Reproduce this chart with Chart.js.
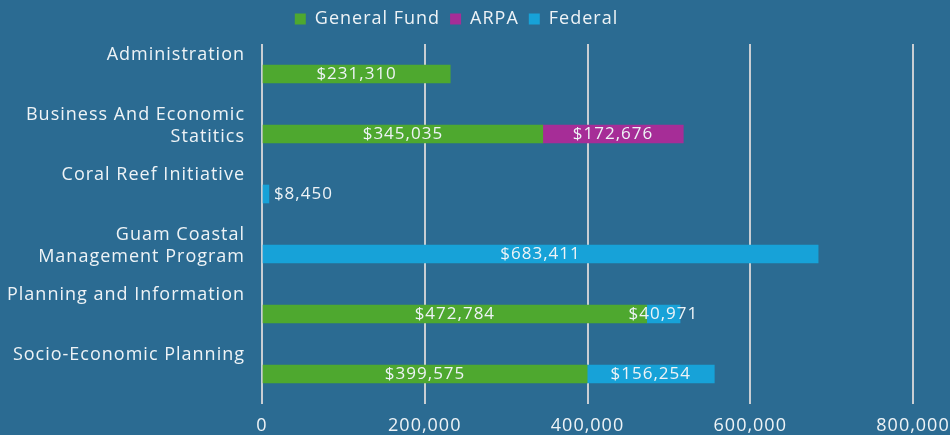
<!DOCTYPE html>
<html>
<head>
<meta charset="utf-8">
<script src="https://cdn.jsdelivr.net/npm/chart.js@4"></script>
<style>
  html, body { margin: 0; padding: 0; background: #2b6b92; }
  #wrap { width: 950px; height: 435px; position: relative; }
</style>
</head>
<body>
<div id="wrap"><canvas id="budgetChart"></canvas></div>
<script>
// category labels (second entry keeps single-line names top-aligned like the original)
const categories = [
    ['Administration', ''],
    ['Business And Economic', 'Statitics'],
    ['Coral Reef Initiative', ''],
    ['Guam Coastal', 'Management Program'],
    ['Planning and Information', ''],
    ['Socio-Economic Planning', '']
];
const generalFund = [231310, 345035, null, null, 472784, 399575];
const arpa = [null, 172676, null, null, null, null];
const federal = [null, null, 8450, 683411, 40971, 156254];
const xTicks = [0, 200000, 400000, 600000, 800000];

const TEXT = '#eef3f6';
const FONT = 'Open Sans';
const SPACING = '1px';

// wider text, closer to the original's typeface
const spacing = {
    id: 'spacing',
    beforeLayout(chart) { chart.ctx.letterSpacing = SPACING; },
    beforeDraw(chart) { chart.ctx.letterSpacing = SPACING; }
};

// extra room under the legend
const legendGap = {
    id: 'legendGap',
    beforeInit(chart) {
        const fit = chart.legend.fit;
        chart.legend.fit = function () { fit.call(this); this.height += 6; };
    }
};

// value labels inside each bar segment
const barLabels = {
    id: 'barLabels',
    afterDatasetsDraw(chart) {
        const ctx = chart.ctx;
        ctx.save();
        ctx.letterSpacing = SPACING;
        ctx.font = '17px "' + FONT + '"';
        ctx.fillStyle = TEXT;
        ctx.textBaseline = 'middle';
        chart.data.datasets.forEach((ds, di) => {
            chart.getDatasetMeta(di).data.forEach((bar, i) => {
                const v = ds.data[i];
                if (v == null) return;
                const txt = '$' + v.toLocaleString('en-US');
                const w = Math.abs(bar.x - bar.base);
                if (w < 20) {
                    ctx.textAlign = 'left';
                    ctx.fillText(txt, bar.x + 5, bar.y);
                } else {
                    ctx.textAlign = 'center';
                    ctx.fillText(txt, (bar.x + bar.base) / 2, bar.y);
                }
            });
        });
        ctx.restore();
    }
};

new Chart(document.getElementById('budgetChart'), {
    type: 'bar',
    data: {
        labels: categories,
        datasets: [
            { label: 'General Fund', data: generalFund, backgroundColor: '#4ea82f' },
            { label: 'ARPA', data: arpa, backgroundColor: '#a62d97' },
            { label: 'Federal', data: federal, backgroundColor: '#17a2d8' }
        ]
    },
    options: {
        indexAxis: 'y',
        responsive: true, maintainAspectRatio: false, animation: false,
        barThickness: 18,
        layout: { padding: { top: 0, right: 37, left: 0, bottom: 0 } },
        plugins: {
            legend: {
                position: 'top',
                labels: { color: TEXT, font: { family: FONT, size: 18 }, boxWidth: 11, boxHeight: 11, padding: 10 }
            },
            tooltip: { enabled: false }
        },
        scales: {
            x: {
                stacked: true, min: 0, max: 800000,
                afterBuildTicks: s => { s.ticks = xTicks.map(v => ({ value: v })); },
                afterFit: s => { s.height = 31; s.paddingLeft = 0; s.paddingRight = 0; },
                grid: { color: '#c9ced3', lineWidth: 2, drawTicks: false },
                border: { display: false },
                ticks: { color: TEXT, padding: 11, font: { family: FONT, size: 18 }, callback: v => v.toLocaleString('en-US') }
            },
            y: {
                stacked: true,
                grid: { display: false, drawTicks: false },
                border: { display: false },
                afterFit: s => { s.width = 262; s.paddingTop = 0; s.paddingBottom = 0; },
                ticks: { color: TEXT, padding: 17, labelOffset: -8, font: { family: FONT, size: 18, lineHeight: '22px' } }
            }
        }
    },
    plugins: [spacing, legendGap, barLabels]
});
</script>
</body>
</html>
